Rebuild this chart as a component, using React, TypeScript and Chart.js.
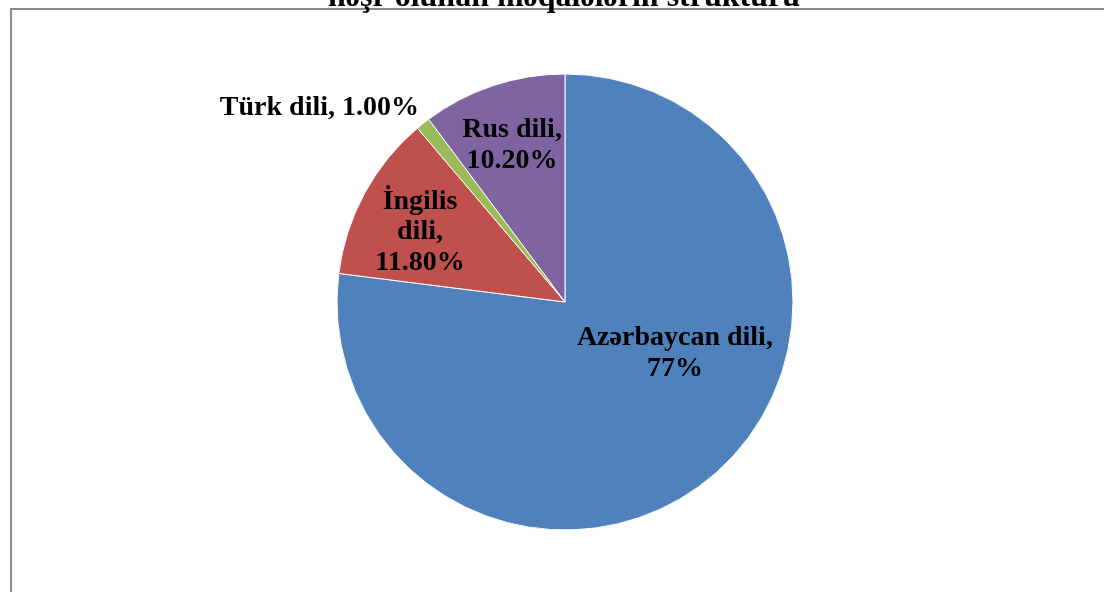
import React, { useEffect, useRef } from "react";
import { Chart, registerables } from "chart.js";

Chart.register(...registerables);

const titleText = "nəşr olunan məqalələrin strukturu";
const categories = ["Azərbaycan dili", "İngilis dili", "Türk dili", "Rus dili"];
const values = [77, 11.8, 1.0, 10.2];
const valueLabels = ["77%", "11.80%", "1.00%", "10.20%"];
const labelLines = [
  ["Azərbaycan dili,", valueLabels[0]],
  ["İngilis", "dili,", valueLabels[1]],
  ["Türk dili, " + valueLabels[2]],
  ["Rus dili,", valueLabels[3]],
];
const colors = ["#4F81BD", "#C0504D", "#9BBB59", "#8064A2"];

// label block centres, relative to the pie centre in units of the radius
const labelOffsets = [
  [0.482, 0.215],
  [-0.636, -0.316],
  [-1.077, -0.86],
  [-0.232, -0.697],
];

const FONT_SIZE = 28;
const LINE_H = 30.5;
const FONT = `bold ${FONT_SIZE}px "Liberation Serif", "Times New Roman", serif`;
const TITLE_FONT = `bold 32px "Liberation Serif", "Times New Roman", serif`;

const framePlugin = {
  id: "frame",
  beforeDraw(chart: any) {
    const ctx = chart.ctx;
    ctx.save();
    ctx.fillStyle = "#ffffff";
    ctx.fillRect(0, 0, chart.width, chart.height);
    ctx.strokeStyle = "#8a8a8a";
    ctx.lineWidth = 2;
    ctx.beginPath();
    ctx.moveTo(chart.width, 9);
    ctx.lineTo(11, 9);
    ctx.lineTo(11, chart.height);
    ctx.stroke();
    ctx.restore();
  },
  afterDraw(chart: any) {
    const ctx = chart.ctx;
    ctx.save();
    ctx.font = TITLE_FONT;
    ctx.fillStyle = "#000000";
    ctx.textAlign = "center";
    ctx.textBaseline = "alphabetic";
    ctx.fillText(titleText, 564, 6);
    ctx.restore();
  },
};

const labelPlugin = {
  id: "sliceLabels",
  afterDatasetsDraw(chart: any) {
    const ctx = chart.ctx;
    const meta = chart.getDatasetMeta(0);
    ctx.save();
    ctx.font = FONT;
    ctx.fillStyle = "#000000";
    ctx.textAlign = "center";
    ctx.textBaseline = "alphabetic";
    meta.data.forEach((arc: any, i: number) => {
      const r = arc.outerRadius;
      const cx = arc.x + labelOffsets[i][0] * r;
      const cy = arc.y + labelOffsets[i][1] * r;
      const lines = labelLines[i];
      const top = cy - ((lines.length - 1) * LINE_H) / 2;
      lines.forEach((ln, j) => {
        ctx.fillText(ln, cx, top + j * LINE_H + FONT_SIZE * 0.33);
      });
    });
    ctx.restore();
  },
};

export default function App() {
  const ref = useRef<HTMLCanvasElement | null>(null);
  useEffect(() => {
    if (!ref.current) return;
    const chart = new Chart(ref.current, {
      type: "pie",
      data: {
        labels: categories,
        datasets: [
          {
            data: values,
            backgroundColor: colors,
            borderColor: "#ffffff",
            borderWidth: 1,
          },
        ],
      },
      options: {
        responsive: false,
        animation: false,
        layout: { padding: { left: 26, right: 0, top: 73.5, bottom: 61.5 } },
        plugins: {
          legend: { display: false },
          tooltip: { enabled: false },
          title: { display: false },
        },
      },
      plugins: [framePlugin, labelPlugin],
    });
    return () => chart.destroy();
  }, []);
  return (
    <div style={{ position: "absolute", left: 0, top: 0, width: 1104, height: 592 }}>
      <canvas ref={ref} width={1104} height={592} style={{ display: "block" }} />
    </div>
  );
}
